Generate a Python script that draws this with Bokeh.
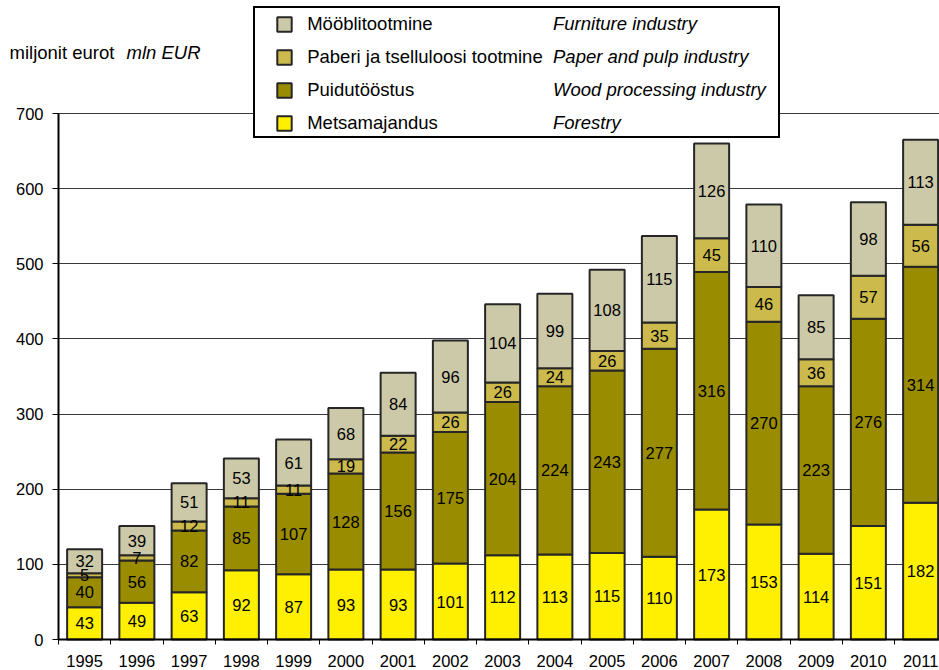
from bokeh.plotting import figure
from bokeh.models import (ColumnDataSource, Range1d, FixedTicker, Legend, LegendItem,
                          Label, CustomJSTickFormatter, Grid)
from bokeh.core.properties import value
from bokeh.embed import file_html
from bokeh.resources import INLINE

# ---------------- data ----------------
years = ["1995", "1996", "1997", "1998", "1999", "2000", "2001", "2002", "2003",
         "2004", "2005", "2006", "2007", "2008", "2009", "2010", "2011"]
forestry = [43, 49, 63, 92, 87, 93, 93, 101, 112, 113, 115, 110, 173, 153, 114, 151, 182]
wood = [40, 56, 82, 85, 107, 128, 156, 175, 204, 224, 243, 277, 316, 270, 223, 276, 314]
paper = [5, 7, 12, 11, 11, 19, 22, 26, 26, 24, 26, 35, 45, 46, 36, 57, 56]
furniture = [32, 39, 51, 53, 61, 68, 84, 96, 104, 99, 108, 115, 126, 110, 85, 98, 113]
y_ticks = [0, 100, 200, 300, 400, 500, 600, 700]

series_keys = ["forestry", "wood", "paper", "furniture"]
series_vals = [forestry, wood, paper, furniture]
names_et = ["Metsamajandus", "Puidutööstus", "Paberi ja tselluloosi tootmine", "Mööblitootmine"]
names_en = ["Forestry", "Wood processing industry", "Paper and pulp industry", "Furniture industry"]
colors = ["#FFEF00", "#998C00", "#CCBB4C", "#CCC9A8"]

FONT = "Liberation Sans"
n = len(years)
xs = [i + 0.5 for i in range(n)]

# ---------------- layout geometry (page pixels) ----------------
W, H = 939, 670
AXIS_X = 58        # where value axis sits
AXIS_Y = 639       # where category axis sits
TOP_Y = 113        # where y = 700 sits
CAT_PX = 52.25     # pixels per category
ypx = (AXIS_Y - TOP_Y) / y_ticks[-1]
FRAME_B = H        # frame fills the whole figure

src = ColumnDataSource(dict(x=xs, forestry=forestry, wood=wood, paper=paper, furniture=furniture))

p = figure(width=W, height=H,
           x_range=Range1d(-AXIS_X / CAT_PX, (W - AXIS_X) / CAT_PX),
           y_range=Range1d(-(H - AXIS_Y) / ypx, AXIS_Y / ypx),
           output_backend="svg", toolbar_location=None,
           min_border_left=0, min_border_right=0, min_border_top=0, min_border_bottom=0)
p.outline_line_color = None
p.background_fill_color = "white"

renderers = p.vbar_stack(series_keys, x="x", width=0.67, source=src,
                         fill_color=colors, line_color="#262626", line_width=2)

# segment value labels
lx, ly, lt = [], [], []
base = [0] * n
for vals in series_vals:
    for i, v in enumerate(vals):
        lx.append(xs[i])
        ly.append(base[i] + v / 2)
        lt.append(str(v))
        base[i] += v
p.text(x=lx, y=ly, text=lt, text_align="center", text_baseline="middle",
       text_font=value(FONT), text_font_size="16.5px", text_color="black")

# x axis: labels at bar centres, tick marks between bars
p.xaxis.fixed_location = 0
p.xaxis.ticker = FixedTicker(ticks=xs, minor_ticks=list(range(0, n + 1)))
p.xaxis.formatter = CustomJSTickFormatter(args=dict(labels=years),
                                          code="return labels[Math.floor(tick)] || '';")
p.xaxis.bounds = (0, n)
p.xaxis.major_tick_out = 0
p.xaxis.major_tick_in = 0
p.xaxis.minor_tick_out = 5
p.xaxis.minor_tick_in = 0
p.xaxis.minor_tick_line_color = "black"
p.xaxis.axis_line_color = "black"
p.xaxis.axis_line_width = 2
p.xaxis.major_label_standoff = 10
p.xaxis.major_label_text_font = FONT
p.xaxis.major_label_text_font_size = "16.5px"
p.xaxis.major_label_text_color = "black"

# y axis, drawn at x = 0 of the data
p.yaxis.fixed_location = 0
p.yaxis.bounds = (y_ticks[0], y_ticks[-1])
p.yaxis.ticker = FixedTicker(ticks=y_ticks)
p.yaxis.major_tick_out = 6
p.yaxis.major_tick_in = 0
p.yaxis.minor_tick_line_color = None
p.yaxis.major_tick_line_color = "black"
p.yaxis.axis_line_color = "black"
p.yaxis.axis_line_width = 2
p.yaxis.major_label_standoff = 9
p.yaxis.major_label_text_font = FONT
p.yaxis.major_label_text_font_size = "16.5px"
p.yaxis.major_label_text_color = "black"

p.xgrid.visible = False
p.ygrid.ticker = FixedTicker(ticks=y_ticks[1:])
p.ygrid.grid_line_color = "#3a3a3a"
p.ygrid.grid_line_width = 1
if "cross_bounds" in Grid.properties():
    p.ygrid.cross_bounds = (0, n)

# ---------------- legend ----------------
BOX_L, BOX_T, BOX_R, BOX_B = 253, 10, 776, 138
ghost = p.vbar(x=[], top=[], width=0, fill_alpha=0, line_alpha=0)
box = Legend(items=[LegendItem(label=" ", renderers=[ghost])],
             location=(BOX_L, FRAME_B - BOX_B), padding=0, margin=0, spacing=0,
             glyph_width=1, glyph_height=1, label_standoff=0,
             label_width=BOX_R - BOX_L - 1, label_height=BOX_B - BOX_T,
             border_line_color="black", border_line_width=2, border_line_alpha=1.0,
             background_fill_color="white", background_fill_alpha=1.0)
p.add_layout(box)

LEG_PAD = 6
ROW_H = 21
ROW_SP = 11
GLYPH = 18
ROW1_C = 27
LEG_FONT = "18.5px"
leg_top = ROW1_C - ROW_H / 2 - LEG_PAD
leg_h = 2 * LEG_PAD + 4 * ROW_H + 3 * ROW_SP
glyph_left = 277 - GLYPH * 0.1
order = [3, 2, 1, 0]

common = dict(orientation="vertical", padding=LEG_PAD, spacing=ROW_SP, margin=0,
              label_height=ROW_H, label_text_font=FONT, label_text_font_size=LEG_FONT,
              label_text_color="black", border_line_alpha=0, background_fill_alpha=0)

legend = Legend(items=[LegendItem(label=names_et[k], renderers=[renderers[k]]) for k in order],
                location=(glyph_left - LEG_PAD, FRAME_B - (leg_top + leg_h)),
                glyph_width=GLYPH, glyph_height=GLYPH, label_width=230,
                label_standoff=int(308 - (glyph_left + GLYPH)), **common)
p.add_layout(legend)

EN_X = 553
legend_en = Legend(items=[LegendItem(label=names_en[k], renderers=[ghost]) for k in order],
                   location=(EN_X - 1 - LEG_PAD, FRAME_B - (leg_top + leg_h)),
                   glyph_width=1, glyph_height=1, label_width=200, label_standoff=0,
                   label_text_font_style="italic", **common)
p.add_layout(legend_en)

# unit label
p.add_layout(Label(x=9, y=FRAME_B - 52, x_units="screen", y_units="screen",
                   text="miljonit eurot", text_font=FONT, text_font_size=LEG_FONT,
                   text_baseline="middle", text_color="black"))
p.add_layout(Label(x=126, y=FRAME_B - 52, x_units="screen", y_units="screen",
                   text="mln EUR", text_font=FONT, text_font_size=LEG_FONT, text_font_style="italic",
                   text_baseline="middle", text_color="black"))

open("out.html", "w").write(file_html(p, INLINE))
